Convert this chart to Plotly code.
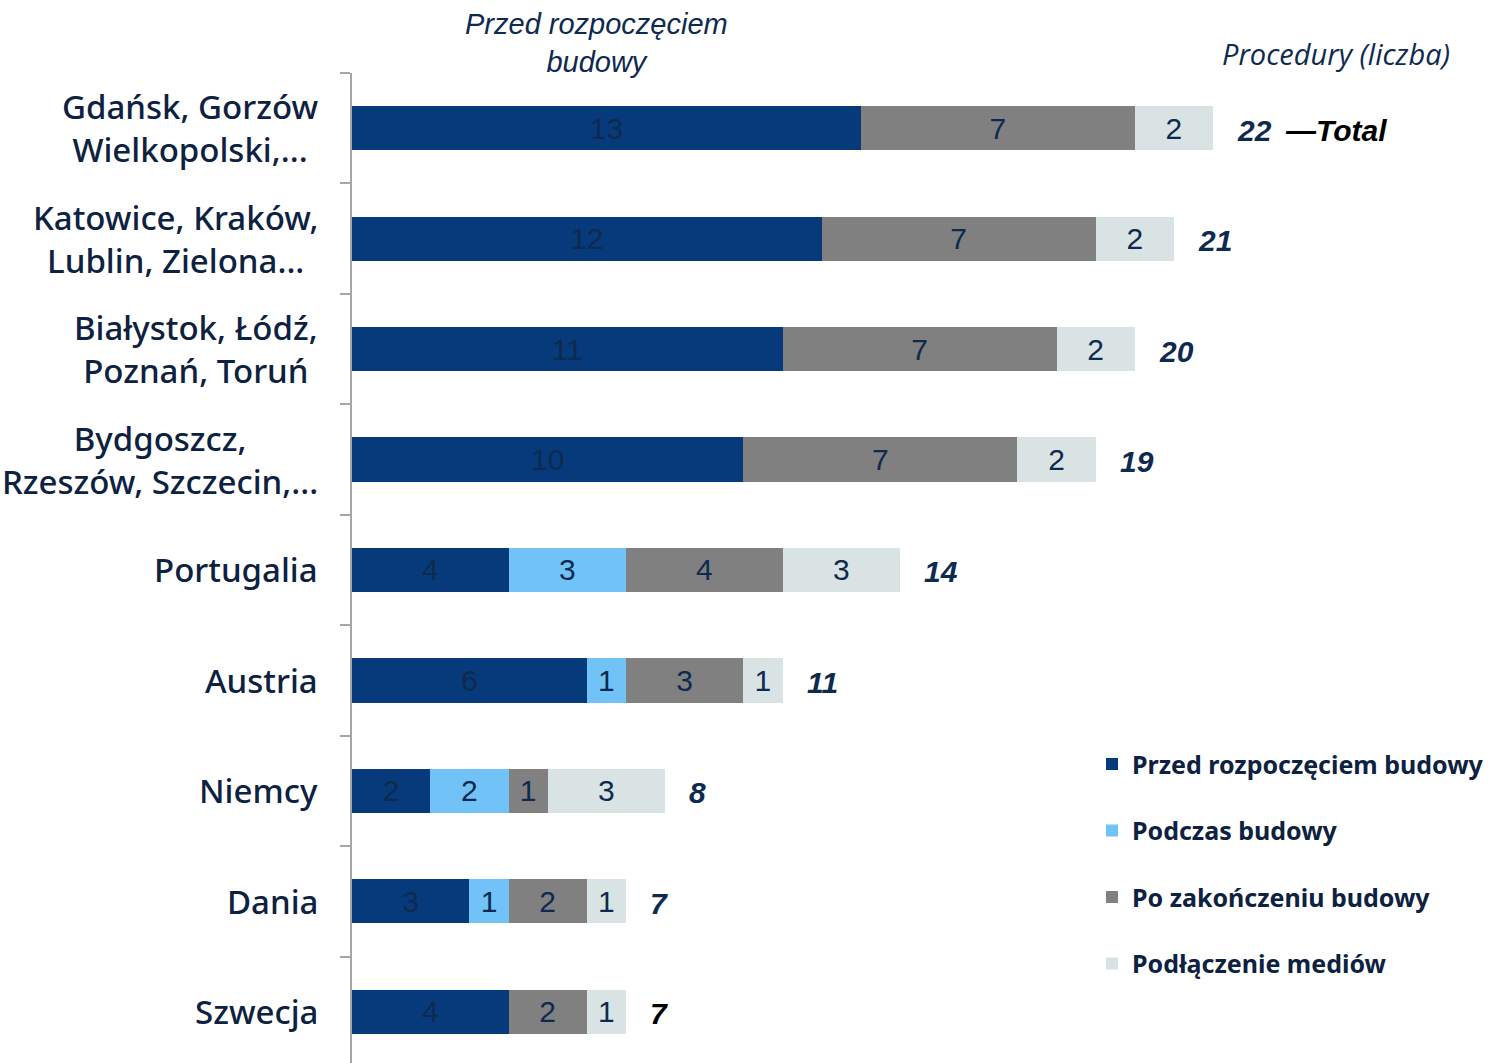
import plotly.graph_objects as go

categories = ["Gdańsk", "Katowice", "Białystok", "Bydgoszcz", "Portugalia",
              "Austria", "Niemcy", "Dania", "Szwecja"]
category_labels = ["Gdańsk, Gorzów<br>Wielkopolski,...",
                   "Katowice, Kraków,<br>Lublin, Zielona...",
                   "Białystok, Łódź,<br>Poznań, Toruń",
                   "Bydgoszcz,<br>Rzeszów, Szczecin,...",
                   "Portugalia", "Austria", "Niemcy", "Dania", "Szwecja"]
series_names = ["Przed rozpoczęciem budowy", "Podczas budowy",
                "Po zakończeniu budowy", "Podłączenie mediów"]
przed = [13, 12, 11, 10, 4, 6, 2, 3, 4]
podczas = [0, 0, 0, 0, 3, 1, 2, 1, 0]
po = [7, 7, 7, 7, 4, 3, 1, 2, 2]
media = [2, 2, 2, 2, 3, 1, 3, 1, 1]
totals = [22, 21, 20, 19, 14, 11, 8, 7, 7]

colors = ["#073A7B", "#71C2F7", "#808080", "#D9E3E4"]
NAVY = "#0E2A4F"

fig = go.Figure()
for i, (name, vals) in enumerate(zip(series_names, [przed, podczas, po, media])):
    fig.add_trace(go.Bar(
        y=categories, x=vals, name=name, orientation="h",
        marker=dict(color=colors[i], line=dict(width=0)),
        text=[str(v) if v else "" for v in vals],
        textposition="inside", insidetextanchor="middle", textangle=0,
        textfont=dict(family="Liberation Sans, Arial", size=30, color=NAVY),
        legendgroup=f"g{i}", hoverinfo="skip",
    ))

annotations = []
for cat, lab in zip(categories, category_labels):
    annotations.append(dict(
        x=0, y=cat, xref="x", yref="y", text=lab, showarrow=False,
        xanchor="right", yanchor="middle", align="center", xshift=-32,
        font=dict(family="Noto Sans", size=33, color="#0D2140", weight=500),
    ))
for j, (cat, t) in enumerate(zip(categories, totals)):
    annotations.append(dict(
        x=t, y=cat, xref="x", yref="y", text=f"<b><i>{t}</i></b>",
        showarrow=False, xanchor="left", yanchor="middle", xshift=22, yshift=-2,
        font=dict(family="Liberation Sans, Arial", size=30,
                  color="#000000" if j == len(categories) - 1 else NAVY),
    ))
annotations.append(dict(
    x=totals[0], y=categories[0], xref="x", yref="y",
    text="<b><i>—Total</i></b>", showarrow=False, xanchor="left",
    yanchor="middle", xshift=70, yshift=-2,
    font=dict(family="Liberation Sans, Arial", size=30, color="#000000"),
))
annotations.append(dict(
    x=0.2146, y=1.0303, xref="paper", yref="paper",
    text="<i>Przed rozpoczęciem<br>budowy</i>", showarrow=False,
    xanchor="center", yanchor="middle", align="center",
    font=dict(family="Liberation Sans, Arial", size=29, color=NAVY),
))
annotations.append(dict(
    x=0.8654, y=1.0202, xref="paper", yref="paper",
    text="<i>Procedury (liczba)</i>", showarrow=False,
    xanchor="center", yanchor="middle",
    font=dict(family="Open Sans", size=29, color=NAVY),
))

fig.update_layout(
    width=1489, height=1063,
    margin=dict(l=352, r=0, t=73, b=0, pad=0),
    paper_bgcolor="white", plot_bgcolor="white",
    barmode="stack", bargap=0.6,
    uniformtext=dict(minsize=30, mode="show"),
    annotations=annotations,
    showlegend=True,
    legend=dict(
        x=0.651, y=0.325, xanchor="left", yanchor="top",
        font=dict(family="Noto Sans", size=25, color="#0D2140", weight="bold"),
        tracegroupgap=31, traceorder="grouped", bgcolor="rgba(0,0,0,0)",
    ),
    xaxis=dict(range=[0, 29.05], visible=False, fixedrange=True),
    yaxis=dict(
        categoryorder="array", categoryarray=categories,
        range=[8.464, -0.5], showticklabels=False,
        ticks="outside", tickson="boundaries", ticklen=10, tickwidth=2,
        tickcolor="#A6A6A6", showline=True, linecolor="#A6A6A6", linewidth=2,
        showgrid=False, zeroline=False, fixedrange=True,
    ),
)

fig.write_html("out.html", config={"displayModeBar": False},
               post_script="document.body.style.margin='0';")
